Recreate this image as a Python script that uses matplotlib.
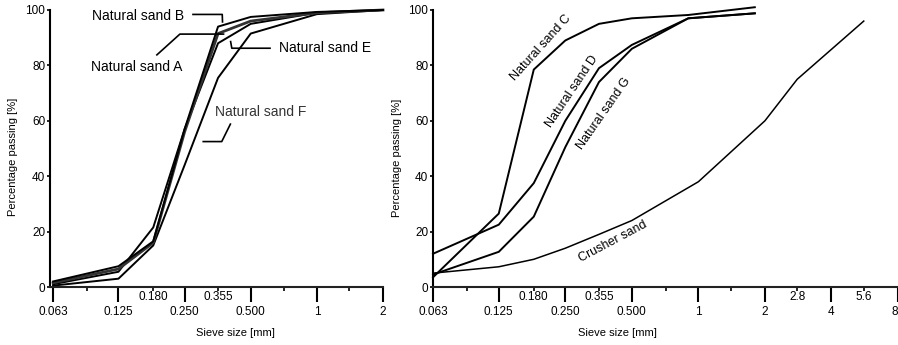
import matplotlib
matplotlib.use("Agg")
import matplotlib.pyplot as plt
import numpy as np

plt.rcParams['font.family'] = ['Liberation Sans', 'DejaVu Sans']

# ---------------- data ----------------
left_sieve = [0.063, 0.125, 0.18, 0.25, 0.355, 0.5, 1, 2]
sand_A = [1.5, 6.5, 16, 56, 91.5, 96, 99, 100]
sand_B = [2, 7.5, 16.5, 57, 94, 97.5, 99.3, 100]
sand_E = [1, 5.5, 21.5, 57, 88, 95, 99, 100]
sand_F = [0.5, 3, 15, 44, 75.5, 91.5, 98.5, 100]

right_sieve = [0.063, 0.125, 0.18, 0.25, 0.355, 0.5, 0.9, 1.8]
sand_C = [3.5, 26.5, 78.5, 89, 95, 97, 98.2, 101]
sand_D = [12, 22.5, 37.5, 60, 79, 87.4, 97, 98.8]
sand_G = [4.5, 12.7, 25.4, 50.5, 74, 86, 97, 98.8]

crusher_sieve = [0.063, 0.125, 0.18, 0.25, 0.355, 0.5, 1, 2, 2.8, 5.6]
crusher_sand = [5, 7.3, 10, 14, 19, 24, 38, 60, 75, 96]

left_major = [0.063, 0.125, 0.25, 0.5, 1, 2]
left_major_lbl = ['0.063', '0.125', '0.250', '0.500', '1', '2']
left_minor = [0.09, 0.18, 0.355, 0.71, 1.4]
left_minor_lbl = ['', '0.180', '0.355', '', '']

right_major = [0.063, 0.125, 0.25, 0.5, 1, 2, 4, 8]
right_major_lbl = ['0.063', '0.125', '0.250', '0.500', '1', '2', '4', '8']
right_minor = [0.09, 0.18, 0.355, 0.71, 1.4, 2.8, 5.6]
right_minor_lbl = ['', '0.180', '0.355', '', '', '2.8', '5.6']

y_ticks = [0, 20, 40, 60, 80, 100]

# ---------------- figure ----------------
W, H = 898, 345
fig = plt.figure(figsize=(W / 100, H / 100), dpi=100)

def px_axes(x0, x1, y_top, y_bot):
    return fig.add_axes([x0 / W, (H - y_bot) / H, (x1 - x0) / W, (y_bot - y_top) / H])

axL = px_axes(50, 383, 10, 287)
axR = px_axes(433, 898, 10, 287)

fs = 8.5
for ax in (axL, axR):
    ax.set_xscale('log')
    ax.set_ylim(0, 100)
    ax.spines['top'].set_visible(False)
    ax.spines['right'].set_visible(False)
    ax.spines['left'].set_linewidth(1.5)
    ax.spines['bottom'].set_linewidth(1.5)
    ax.spines['bottom'].set_color('#222222')
    ax.set_yticks(y_ticks)
    ax.set_yticklabels([str(v) for v in y_ticks], fontsize=fs)
    ax.tick_params(axis='y', direction='out', length=2.5, width=1.2, pad=1)
    ax.tick_params(axis='x', which='major', direction='out', length=11, width=1.5, pad=3, labelsize=fs)
    ax.tick_params(axis='x', which='minor', direction='out', length=3, width=1.2, pad=0, labelsize=fs)
    ax.patch.set_alpha(0)

axL.set_xlim(0.061, 2.0)
axL.set_xticks(left_major, left_major_lbl)
axL.set_xticks(left_minor, left_minor_lbl, minor=True)

axR.set_xlim(0.063, 8.0)
axR.set_xticks(right_major, right_major_lbl)
axR.set_xticks(right_minor, right_minor_lbl, minor=True)
# the last label ("8") sits at the figure edge: right-align it so it stays visible
axR.get_xticklabels()[-1].set_horizontalalignment('right')

# ---------------- left curves ----------------
lw = 1.4
axL.plot(left_sieve, sand_F, color='black', lw=lw, clip_on=False)
axL.plot(left_sieve, sand_E, color='black', lw=lw, clip_on=False)
axL.plot(left_sieve, sand_A, color='#333333', lw=lw + 0.6, clip_on=False)
axL.plot(left_sieve, sand_B, color='black', lw=lw, clip_on=False)

# labels with leader lines (data coordinates)
tfs = 10
axL.text(0.0948, 97.8, 'Natural sand B', fontsize=tfs, ha='left', va='center')
axL.plot([0.273, 0.371, 0.372], [98.4, 98.4, 95.7], color='black', lw=1.2, clip_on=False)

axL.text(0.0934, 79.5, 'Natural sand A', fontsize=tfs, ha='left', va='center')
axL.plot([0.187, 0.238, 0.376], [83.8, 91.3, 91.3], color='black', lw=1.2)

axL.text(0.674, 86.4, 'Natural sand E', fontsize=tfs, ha='left', va='center')
axL.plot([0.612, 0.41, 0.405], [86.2, 86.2, 88.6], color='black', lw=1.2)

axL.text(0.344, 63.3, 'Natural sand F', fontsize=tfs, ha='left', va='center', color='#333333')
axL.plot([0.404, 0.369, 0.304], [58.8, 52.5, 52.5], color='black', lw=1.2)

# ---------------- right curves ----------------
axR.plot(right_sieve, sand_C, color='black', lw=lw, clip_on=False)
axR.plot(right_sieve, sand_D, color='black', lw=lw, clip_on=False)
axR.plot(right_sieve, sand_G, color='black', lw=lw, clip_on=False)
axR.plot(crusher_sieve, crusher_sand, color='black', lw=1.1, clip_on=False)

rfs = 9
axR.text(0.194, 86.5, 'Natural sand C', fontsize=rfs, rotation=48,
         ha='center', va='center', rotation_mode='anchor')
axR.text(0.268, 70.5, 'Natural sand D', fontsize=rfs, rotation=56,
         ha='center', va='center', rotation_mode='anchor')
axR.text(0.372, 62.5, 'Natural sand G', fontsize=rfs, rotation=55,
         ha='center', va='center', rotation_mode='anchor')
axR.text(0.411, 16.2, 'Crusher sand', fontsize=rfs, rotation=28,
         ha='center', va='center', rotation_mode='anchor')

# ---------------- axis titles ----------------
fig.text(13 / W, (H - 157) / H, 'Percentage passing [%]', rotation=90,
         ha='center', va='center', fontsize=8)
fig.text(397 / W, (H - 158) / H, 'Percentage passing [%]', rotation=90,
         ha='center', va='center', fontsize=8)
fig.text(235 / W, (H - 333) / H, 'Sieve size [mm]', ha='center', va='center', fontsize=8)
fig.text(617 / W, (H - 333) / H, 'Sieve size [mm]', ha='center', va='center', fontsize=8)

fig.savefig('out.png', dpi=100)
